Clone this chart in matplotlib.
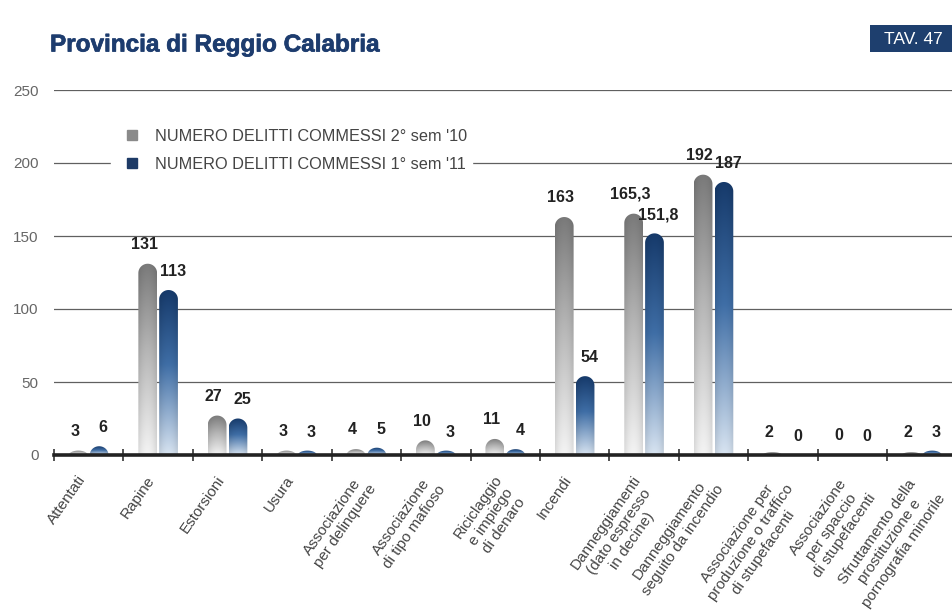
import numpy as np
import matplotlib
matplotlib.use('Agg')
import matplotlib.pyplot as plt
import matplotlib.transforms as mtransforms
import matplotlib.patheffects as pe
from matplotlib.path import Path
from matplotlib.patches import PathPatch, Rectangle
from matplotlib.lines import Line2D

plt.rcParams['font.family'] = ['Liberation Sans', 'DejaVu Sans']

# dati
categories = ['Attentati', 'Rapine', 'Estorsioni', 'Usura',
              'Associazione\nper delinquere', 'Associazione\ndi tipo mafioso',
              'Riciclaggio\ne impiego\ndi denaro', 'Incendi',
              'Danneggiamenti\n(dato espresso\nin decine)',
              'Danneggiamento\nseguito da incendio',
              'Associazione per\nproduzione o traffico\ndi stupefacenti',
              'Associazione\nper spaccio\ndi stupefacenti',
              'Sfruttamento della\nprostituzione e\npornografia minorile']
sem2_10 = [3, 131, 27, 3, 4, 10, 11, 163, 165.3, 192, 2, 0, 2]
sem1_11 = [6, 113, 25, 3, 5, 3, 4, 54, 151.8, 187, 0, 0, 3]
lab_10 = ['3', '131', '27', '3', '4', '10', '11', '163', '165,3', '192', '2', '0', '2']
lab_11 = ['6', '113', '25', '3', '5', '3', '4', '54', '151,8', '187', '0', '0', '3']
yticks = [0, 50, 100, 150, 200, 250]
legend_labels = ["NUMERO DELITTI COMMESSI 2\u00b0 sem '10",
                 "NUMERO DELITTI COMMESSI 1\u00b0 sem '11"]

gray_stops = ['#f4f4f4', '#b5b5b5', '#7a7a7a']
blue_stops = ['#d8e4f1', '#3f6ea6', '#163a6b']

W, H = 953, 614
fig = plt.figure(figsize=(W/100, H/100), dpi=100)
ax = fig.add_axes([54/W, 1-455/H, 1-54/W, 365/H])
xmax = 12.95
ax.set_xlim(0, xmax)
ax.set_ylim(0, 250)

def to_rgb(c):
    return np.array(matplotlib.colors.to_rgb(c))

def grad_bar(ax, xc, h, w, stops, ry):
    if h <= 0:
        return
    x0, x1 = xc - w/2, xc + w/2
    r = min(ry, h)
    t = np.linspace(np.pi, 0, 40)
    arc = np.column_stack([xc + w/2*np.cos(t), h - r + r*np.sin(t)])
    verts = np.vstack([[x0, 0], arc, [x1, 0], [x0, 0]])
    codes = [Path.MOVETO] + [Path.LINETO]*(len(verts)-2) + [Path.CLOSEPOLY]
    patch = PathPatch(Path(verts, codes), fc='none', ec='none')
    ax.add_patch(patch)
    cs = np.array([to_rgb(c) for c in stops])
    v = np.linspace(0, 1, 120)
    col = np.stack([np.interp(v, [0, 0.55, 1], cs[:, k]) for k in range(3)], axis=-1)
    u = np.linspace(-1, 1, 24)
    shade = 1 - 0.10*u**2
    img = np.clip(col[:, None, :]*shade[None, :, None], 0, 1)
    im = ax.imshow(img, extent=[x0, x1, 0, h], origin='lower', aspect='auto',
                   zorder=2, interpolation='bilinear')
    im.set_clip_path(patch)

# raggio della cupola in unita' dati
bw = 0.27
ax_w_px = W - 54
ax_h_px = 365
ry = (bw*ax_w_px/xmax/2) * 250/ax_h_px

x = np.arange(len(categories)) + 0.5
off = 0.15
for i in range(len(categories)):
    grad_bar(ax, x[i]-off, sem2_10[i], bw, gray_stops, ry)
    grad_bar(ax, x[i]+off, sem1_11[i], bw, blue_stops, ry)
    ax.annotate(lab_10[i], (x[i]-off, sem2_10[i]), xytext=(-2.5, 8.5), textcoords='offset points',
                ha='center', va='bottom', fontsize=11.5, fontweight='bold', color='#222222', zorder=5)
    ax.annotate(lab_11[i], (x[i]+off, sem1_11[i]), xytext=(3, 8), textcoords='offset points',
                ha='center', va='bottom', fontsize=11.5, fontweight='bold', color='#222222', zorder=5)

ax.set_xlim(0, xmax)
ax.set_ylim(0, 250)

for s in ax.spines.values():
    s.set_visible(False)
ax.set_yticks(yticks)
ax.set_yticklabels([str(v) for v in yticks], fontsize=11, color='#666666')
ax.tick_params(axis='y', length=0, pad=11)
ax.yaxis.grid(True, color='#606060', lw=0.9)
ax.set_axisbelow(True)
ax.axhline(0, color='#222222', lw=2.6, zorder=4, clip_on=False)

ax.set_xticks(x)
ax.set_xticklabels(categories, rotation=55, ha='right', va='top', rotation_mode='anchor',
                   multialignment='center', fontsize=11, color='#444444')
ax.tick_params(axis='x', which='major', length=0, pad=13)
shift = mtransforms.ScaledTranslation(-12/100, 0, fig.dpi_scale_trans)
for lbl in ax.get_xticklabels():
    lbl.set_transform(lbl.get_transform() + shift)
ax.set_xticks(np.arange(0, len(categories)), minor=True)
ax.tick_params(axis='x', which='minor', direction='inout', length=9, width=1.2, color='#333333')

handles = [Line2D([], [], ls='none', marker='s', ms=7, color='#8a8a8a'),
           Line2D([], [], ls='none', marker='s', ms=7, color='#1d3a66')]
leg = ax.legend(handles, legend_labels, loc='upper left', bbox_to_anchor=(0.054, 0.93),
                frameon=True, framealpha=1, edgecolor='white', facecolor='white',
                fontsize=11.7, handletextpad=0.4, borderpad=0.3, labelspacing=0.8)
for t in leg.get_texts():
    t.set_color('#444444')
leg.set_zorder(6)

fig.text(50/W, 1-45/H, 'Provincia di Reggio Calabria', fontsize=17.5, fontweight='bold',
         color='#1d3c6e', ha='left', va='center',
         path_effects=[pe.withStroke(linewidth=0.5, foreground='#1d3c6e')])
fig.add_artist(Rectangle((870/W, 1-52/H), 83/W, 27/H, transform=fig.transFigure,
                         fc='#1e3f6e', ec='none'))
fig.text(913/W, 1-39/H, 'TAV. 47', fontsize=12.5, color='white', ha='center', va='center')

fig.savefig('out.png', dpi=100)
